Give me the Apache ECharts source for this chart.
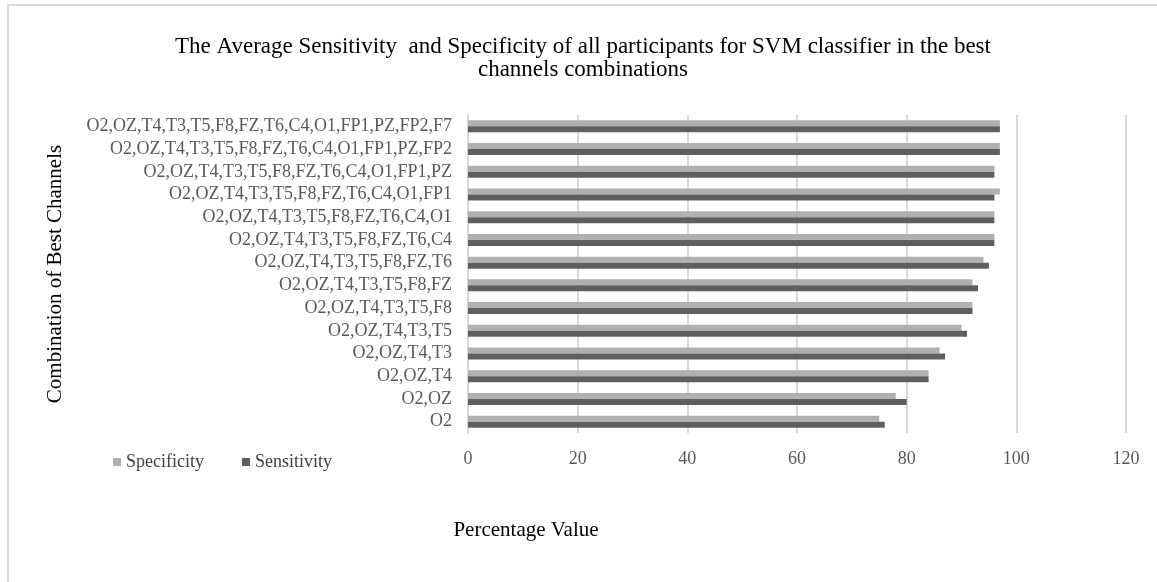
<!DOCTYPE html>
<html>
<head>
<meta charset="utf-8">
<script src="https://cdn.jsdelivr.net/npm/echarts@6/dist/echarts.min.js"></script>
<style>html,body{margin:0;padding:0;background:#fff}#c{width:1157px;height:582px}</style>
</head>
<body>
<div id="c"></div>
<script>
const categories = [
  "O2",
  "O2,OZ",
  "O2,OZ,T4",
  "O2,OZ,T4,T3",
  "O2,OZ,T4,T3,T5",
  "O2,OZ,T4,T3,T5,F8",
  "O2,OZ,T4,T3,T5,F8,FZ",
  "O2,OZ,T4,T3,T5,F8,FZ,T6",
  "O2,OZ,T4,T3,T5,F8,FZ,T6,C4",
  "O2,OZ,T4,T3,T5,F8,FZ,T6,C4,O1",
  "O2,OZ,T4,T3,T5,F8,FZ,T6,C4,O1,FP1",
  "O2,OZ,T4,T3,T5,F8,FZ,T6,C4,O1,FP1,PZ",
  "O2,OZ,T4,T3,T5,F8,FZ,T6,C4,O1,FP1,PZ,FP2",
  "O2,OZ,T4,T3,T5,F8,FZ,T6,C4,O1,FP1,PZ,FP2,F7"
];
const specificity = [75, 78, 84, 86, 90, 92, 92, 94, 96, 96, 97, 96, 97, 97];
const sensitivity = [76, 80, 84, 87, 91, 92, 93, 95, 96, 96, 96, 96, 97, 97];
const xTicks = [0, 20, 40, 60, 80, 100, 120];

const serif = '"Liberation Serif", "Times New Roman", serif';
const chart = echarts.init(document.getElementById('c'));
chart.setOption({
  animation: false,
  title: [{
    text: 'The Average Sensitivity  and Specificity of all participants for SVM classifier in the best\nchannels combinations',
    left: 578,
    top: 30,
    textAlign: 'center',
    textStyle: {fontFamily: serif, fontSize: 23, fontWeight: 'normal', color: '#000', lineHeight: 23, align: 'center'}
  }, {
    text: 'Percentage Value',
    left: 521,
    top: 515,
    textAlign: 'center',
    textStyle: {fontFamily: serif, fontSize: 21, fontWeight: 'normal', color: '#000'}
  }],
  legend: {
    data: ['Specificity', 'Sensitivity'],
    left: 108,
    top: 448,
    itemWidth: 8,
    itemHeight: 8,
    itemGap: 38,
    icon: 'rect',
    textStyle: {fontFamily: serif, fontSize: 18, color: '#404040'}
  },
  graphic: [{
    type: 'rect',
    shape: {x: 8, y: 5, width: 1200, height: 700},
    style: {fill: 'none', stroke: '#d9d9d9', lineWidth: 2},
    silent: true
  }],
  grid: {left: 468, right: 31, top: 115, bottom: 149, containLabel: false},
  xAxis: {
    type: 'value',
    min: xTicks[0],
    max: xTicks[xTicks.length - 1],
    interval: 20,
    axisLine: {show: false},
    axisTick: {show: false},
    splitLine: {show: true, lineStyle: {color: '#d9d9d9', width: 2}},
    axisLabel: {fontFamily: serif, fontSize: 18, color: '#595959', margin: 17}
  },
  yAxis: {
    type: 'category',
    data: categories,
    name: 'Combination of Best Channels',
    nameLocation: 'middle',
    nameGap: 402,
    nameRotate: 90,
    nameTextStyle: {fontFamily: serif, fontSize: 21, color: '#000'},
    axisLine: {show: true, lineStyle: {color: '#d9d9d9', width: 2}},
    axisTick: {show: false},
    axisLabel: {fontFamily: serif, fontSize: 18, color: '#595959', margin: 16, interval: 0, hideOverlap: false}
  },
  series: [{
    name: 'Specificity',
    type: 'bar',
    data: specificity,
    barWidth: 6,
    barGap: '0%',
    itemStyle: {color: '#b0b0b0'}
  }, {
    name: 'Sensitivity',
    type: 'bar',
    data: sensitivity,
    barWidth: 6,
    barGap: '0%',
    itemStyle: {color: '#5f5f5f'}
  }]
});
</script>
</body>
</html>
